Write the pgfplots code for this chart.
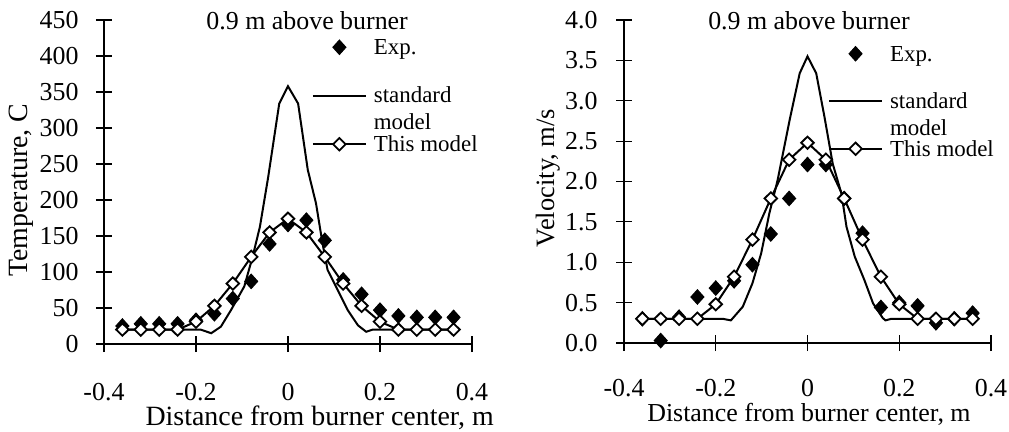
\documentclass[border=0pt]{standalone}
\usepackage{fontspec}
\setmainfont{Liberation Serif}
\usepackage{pgfplots}
\pgfplotsset{compat=1.18}
\newcommand{\fs}[1]{\fontsize{#1}{#1}\selectfont}
\newcommand{\lgd}[1]{\raisebox{-3.5bp}{#1}}
\pgfplotsset{
  excel/.style={
    scale only axis,
    axis lines*=left,
    tick align=center,
    major tick length=8bp,
    xmin=-0.4, xmax=0.4,
    xtick={-0.4,-0.2,0,0.2,0.4},
    xticklabels={-0.4,-0.2,0,0.2,0.4},
    /pgf/number format/assume math mode=true,
    every x tick label/.style={anchor=base, inner sep=0pt, font=\fs{13}},
    every y tick label/.style={anchor=east, inner sep=0pt, font=\fs{13}},
    every axis y label/.style={rotate=90, anchor=center},
    every axis x label/.style={anchor=base},
    every axis title/.style={anchor=base, inner sep=0pt},
    clip=false,
    legend cell align=left,
    legend image code/.code={\draw[mark repeat=2,mark phase=2,##1] plot coordinates {(0bp,0bp) (13.25bp,0bp) (26.5bp,0bp)};},
  },
  expstyle/.style={only marks, mark=diamond*, mark size=3.6bp, mark options={xscale=1.2, fill=black, draw=black, line width=0.5bp}},
  thisstyle/.style={black, line width=1bp, mark=diamond*, mark size=3.1bp, mark options={xscale=1.35, fill=white, draw=black, line width=0.9bp, solid}},
  stdstyle/.style={black, line width=1bp, no marks},
}
\begin{document}
\begin{tikzpicture}
\path[use as bounding box] (-52bp,-44bp) rectangle (452.5bp,172bp);
% ---------------- Temperature ----------------
\begin{axis}[excel,
  at={(0bp,0bp)}, anchor=south west,
  width=184bp, height=162bp,
  ymin=0, ymax=450,
  ytick={0,50,100,150,200,250,300,350,400,450},
  axis line style={line width=1bp},
  tick style={black, line width=1bp},
  xticklabel shift=24bp,
  yticklabel shift=8.5bp,
  title={\fs{13}0.9 m above burner},
  title style={at={(axis description cs:0.552,0.972)}},
  xlabel={Distance from burner center, m},
  xlabel style={at={(axis description cs:0.586,-0.253)}, font=\fs{14}},
  ylabel={Temperature, C},
  ylabel style={at={(axis description cs:-0.226,0.475)}, font=\fs{14}},
  legend style={at={(axis description cs:0.565,0.9907)}, anchor=north west,
    draw=none, fill=none, inner sep=0pt, outer sep=0pt, row sep=0pt, column sep=3.5bp,
    nodes={inner sep=0pt, text height=12bp, text depth=12.25bp, font=\fontsize{11.5}{13.3}\selectfont}},
]
\addplot[expstyle] coordinates {
(-0.36,25) (-0.32,28) (-0.28,28) (-0.24,28) (-0.20,33) (-0.16,42) (-0.12,63)
(-0.08,87) (-0.04,139) (0,166) (0.04,172) (0.08,144) (0.12,89) (0.16,69)
(0.20,47) (0.24,39) (0.28,37) (0.32,37) (0.36,37)};
\addlegendentry{\lgd{Exp.}}
\addplot[stdstyle] coordinates {
(-0.36,20) (-0.19,20) (-0.167,15) (-0.146,24) (-0.124,47) (-0.095,80) (-0.077,121)
(-0.061,163) (-0.043,232) (-0.019,334) (0,358) (0.022,334) (0.043,242) (0.061,195)
(0.075,140) (0.086,103) (0.108,75) (0.130,47) (0.152,26) (0.170,17) (0.184,20) (0.36,20)};
\addlegendentry{\lgd{\smash{\begin{tabular}[t]{@{}l@{}}standard\\model\end{tabular}}}}
\addplot[thisstyle] coordinates {
(-0.36,20) (-0.32,20) (-0.28,20) (-0.24,20) (-0.20,31) (-0.16,53) (-0.12,84)
(-0.08,121) (-0.04,155) (0,174) (0.04,155) (0.08,121) (0.12,84) (0.16,53)
(0.20,31) (0.24,20) (0.28,20) (0.32,20) (0.36,20)};
\addlegendentry{\lgd{This model}}
\end{axis}
% ---------------- Velocity ----------------
\begin{axis}[excel,
  at={(260bp,0.5bp)}, anchor=south west,
  width=183.5bp, height=161.5bp,
  ymin=0, ymax=4,
  ytick={0,0.5,1,1.5,2,2.5,3,3.5,4},
  yticklabels={0.0,0.5,1.0,1.5,2.0,2.5,3.0,3.5,4.0},
  axis line style={line width=0.6bp},
  tick style={black, line width=0.6bp},
  xticklabel shift=22.5bp,
  yticklabel shift=9bp,
  title={\fs{13}0.9 m above burner},
  title style={at={(axis description cs:0.504,0.972)}},
  xlabel={Distance from burner center, m},
  xlabel style={at={(axis description cs:0.504,-0.2437)}, font=\fs{13}},
  ylabel={Velocity, m/s},
  ylabel style={at={(axis description cs:-0.208,0.511)}, font=\fs{13.3}},
  legend style={at={(axis description cs:0.556,0.969)}, anchor=north west,
    draw=none, fill=none, inner sep=0pt, outer sep=0pt, row sep=0pt, column sep=3.5bp,
    nodes={inner sep=0pt, text height=12bp, text depth=11.75bp, font=\fontsize{11.5}{13.3}\selectfont}},
]
\addplot[expstyle] coordinates {
(-0.36,0.30) (-0.32,0.03) (-0.28,0.32) (-0.24,0.57) (-0.20,0.68) (-0.16,0.77) (-0.12,0.97)
(-0.08,1.35) (-0.04,1.79) (0,2.21) (0.04,2.21) (0.08,1.79) (0.12,1.36) (0.16,0.44)
(0.20,0.50) (0.24,0.46) (0.28,0.25) (0.32,0.30) (0.36,0.37)};
\addlegendentry{\lgd{Exp.}}
\addplot[stdstyle] coordinates {
(-0.36,0.3) (-0.185,0.3) (-0.167,0.28) (-0.141,0.45) (-0.12,0.74) (-0.101,1.11) (-0.083,1.61)
(-0.065,2.02) (-0.039,2.76) (-0.017,3.34) (0,3.55) (0.019,3.34) (0.037,2.80) (0.055,2.22)
(0.074,1.85) (0.085,1.44) (0.103,1.07) (0.124,0.78) (0.143,0.49) (0.164,0.31) (0.17,0.28)
(0.183,0.3) (0.36,0.3)};
\addlegendentry{\lgd{\smash{\begin{tabular}[t]{@{}l@{}}standard\\model\end{tabular}}}}
\addplot[thisstyle] coordinates {
(-0.36,0.3) (-0.32,0.3) (-0.28,0.3) (-0.24,0.3) (-0.20,0.48) (-0.16,0.82) (-0.12,1.28)
(-0.08,1.79) (-0.04,2.27) (0,2.48) (0.04,2.27) (0.08,1.79) (0.12,1.28) (0.16,0.82)
(0.20,0.48) (0.24,0.3) (0.28,0.3) (0.32,0.3) (0.36,0.3)};
\addlegendentry{\lgd{This model}}
\end{axis}
\end{tikzpicture}
\end{document}
